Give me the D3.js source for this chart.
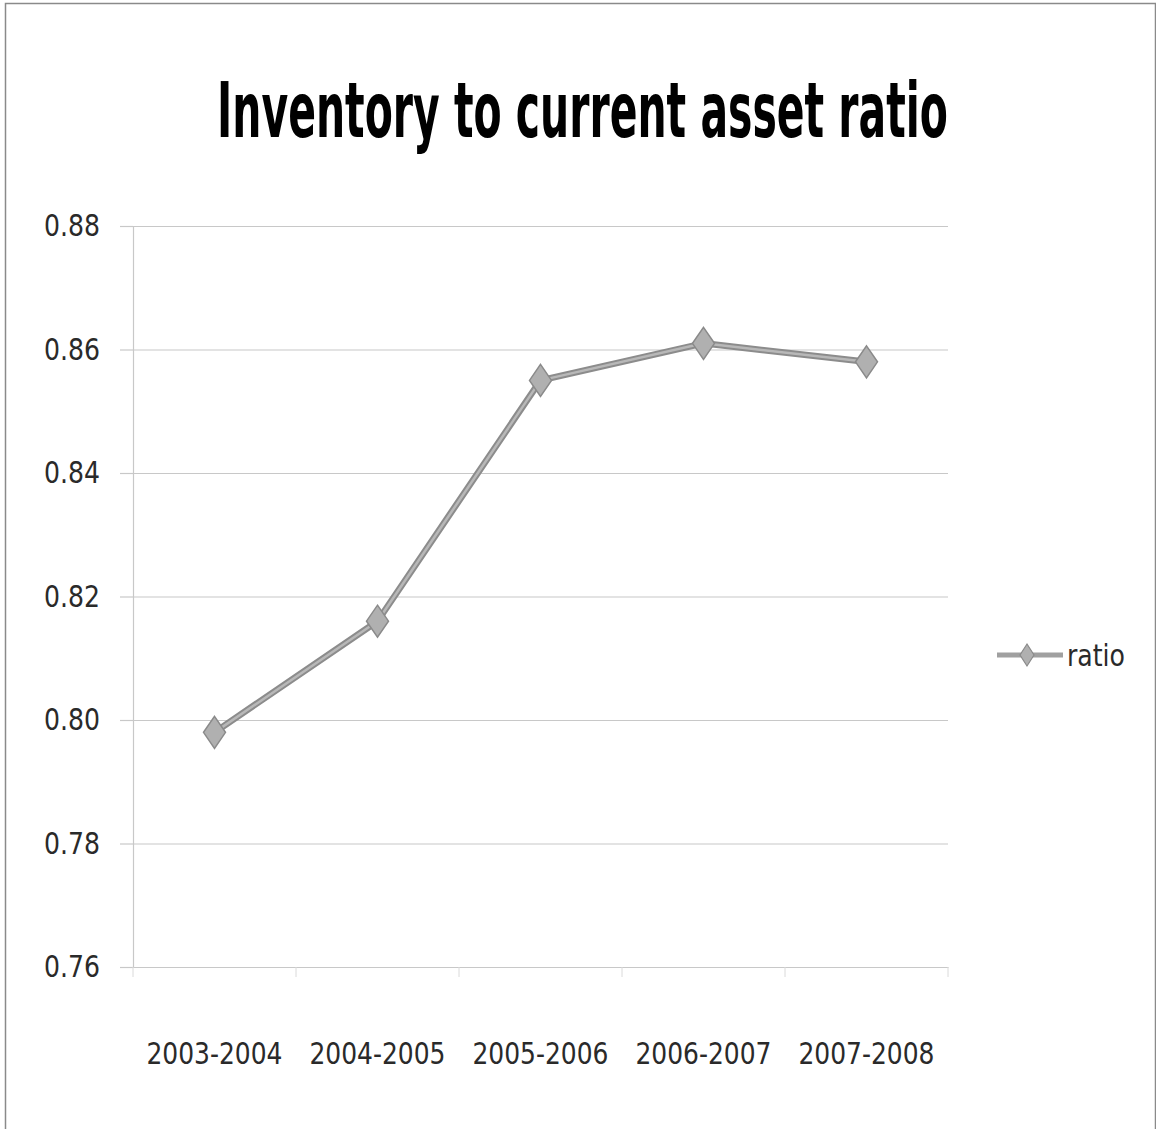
<!DOCTYPE html>
<html>
<head>
<meta charset="utf-8">
<script src="https://cdn.jsdelivr.net/npm/d3@7/dist/d3.min.js"></script>
<style>
  html, body { margin: 0; padding: 0; background: #fff; }
  svg { display: block; }
</style>
</head>
<body>
<svg id="chart" width="1156" height="1129"></svg>
<script>
// Chart data
const periods = ["2003-2004", "2004-2005", "2005-2006", "2006-2007", "2007-2008"];
const ratioValues = [0.798, 0.816, 0.855, 0.861, 0.858];
const yTicks = [0.76, 0.78, 0.80, 0.82, 0.84, 0.86, 0.88];
const seriesName = "ratio";
const chartTitle = "Inventory to current asset ratio";

const svg = d3.select("#chart");
const W = 1156, H = 1129;
const plot = { left: 133, right: 948, top: 226, bottom: 967 };
const narrow = "'Liberation Sans Narrow', 'DejaVu Sans Condensed', 'Open Sans', sans-serif";

// Outer chart frame
svg.append("rect")
  .attr("x", 5.5).attr("y", 3.5)
  .attr("width", W - 6).attr("height", H + 10)
  .attr("fill", "#fff").attr("stroke", "#8a8a8a").attr("stroke-width", 1.5);

const x = d3.scaleBand().domain(periods).range([plot.left, plot.right]);
const y = d3.scaleLinear().domain([0.76, 0.88]).range([plot.bottom, plot.top]);

// Fit a text element into a given width by horizontal scaling around its anchor
function fitWidth(sel, cx, baseline, targetW) {
  const node = sel.node();
  const w = node.getComputedTextLength();
  const k = targetW / w;
  sel.attr("x", 0).attr("y", 0)
    .attr("transform", `translate(${cx},${baseline}) scale(${k},1)`);
}

// Title
const title = svg.append("text")
  .attr("text-anchor", "middle")
  .attr("font-family", narrow)
  .attr("font-weight", "bold")
  .attr("font-size", 76)
  .attr("fill", "#000")
  .text(chartTitle);
fitWidth(title, (217 + 948) / 2, 137, 731);

// Horizontal gridlines
svg.append("g")
  .selectAll("line")
  .data(yTicks)
  .join("line")
  .attr("x1", plot.left).attr("x2", plot.right)
  .attr("y1", d => y(d) + 0.5).attr("y2", d => y(d) + 0.5)
  .attr("stroke", "#c8c8c8").attr("stroke-width", 1.2);

// Y axis
const yAxis = svg.append("g")
  .attr("transform", `translate(${plot.left},0)`)
  .call(d3.axisLeft(y).tickValues(yTicks).tickFormat(d3.format(".2f")).tickSize(13).tickPadding(20));
yAxis.select(".domain").attr("stroke", "#c8c8c8").attr("stroke-width", 1.2);
yAxis.selectAll(".tick line").attr("stroke", "#c8c8c8").attr("stroke-width", 1.2);
yAxis.selectAll("text")
  .attr("font-family", narrow)
  .attr("font-size", 30)
  .attr("fill", "#2a2a2a")
  .attr("textLength", 56)
  .attr("lengthAdjust", "spacingAndGlyphs");

// X axis
const xAxis = svg.append("g")
  .attr("transform", `translate(0,${plot.bottom})`)
  .call(d3.axisBottom(x).tickSize(0).tickPadding(76));
xAxis.select(".domain").attr("stroke", "#c8c8c8").attr("stroke-width", 1.2);
xAxis.selectAll("text")
  .attr("font-family", narrow)
  .attr("font-size", 30)
  .attr("fill", "#2a2a2a")
  .attr("textLength", 136)
  .attr("lengthAdjust", "spacingAndGlyphs");
// category boundary ticks
xAxis.append("g")
  .selectAll("line")
  .data(d3.range(periods.length + 1))
  .join("line")
  .attr("x1", i => plot.left + i * x.step()).attr("x2", i => plot.left + i * x.step())
  .attr("y1", 0).attr("y2", 10)
  .attr("stroke", "#dadada").attr("stroke-width", 1);

// Series line
const pts = periods.map((p, i) => ({ p, v: ratioValues[i] }));
const line = d3.line().x(d => x(d.p) + x.bandwidth() / 2).y(d => y(d.v));

svg.append("path").datum(pts)
  .attr("d", line).attr("fill", "none")
  .attr("stroke", "#8c8c8c").attr("stroke-width", 6.5).attr("stroke-linejoin", "round");
svg.append("path").datum(pts)
  .attr("d", line).attr("fill", "none")
  .attr("stroke", "#b8b8b8").attr("stroke-width", 2.5).attr("stroke-linejoin", "round");

// Diamond markers
const diamond = (cx, cy, w, h) =>
  `M${cx},${cy - h / 2}L${cx + w / 2},${cy}L${cx},${cy + h / 2}L${cx - w / 2},${cy}Z`;
svg.append("g")
  .selectAll("path")
  .data(pts)
  .join("path")
  .attr("d", d => diamond(x(d.p) + x.bandwidth() / 2, y(d.v), 22, 32))
  .attr("fill", "#b0b0b0").attr("stroke", "#8a8a8a").attr("stroke-width", 1.5);

// Legend
const lg = svg.append("g").attr("transform", "translate(997,655)");
lg.append("line").attr("x1", 0).attr("x2", 66).attr("y1", 0).attr("y2", 0)
  .attr("stroke", "#a0a0a0").attr("stroke-width", 5);
lg.append("path").attr("d", diamond(30, 0, 14, 22))
  .attr("fill", "#b0b0b0").attr("stroke", "#8a8a8a").attr("stroke-width", 1.2);
lg.append("text")
  .attr("x", 70).attr("y", 11)
  .attr("font-family", narrow)
  .attr("font-size", 30)
  .attr("fill", "#2a2a2a")
  .attr("textLength", 58)
  .attr("lengthAdjust", "spacingAndGlyphs")
  .text(seriesName);
</script>
</body>
</html>
